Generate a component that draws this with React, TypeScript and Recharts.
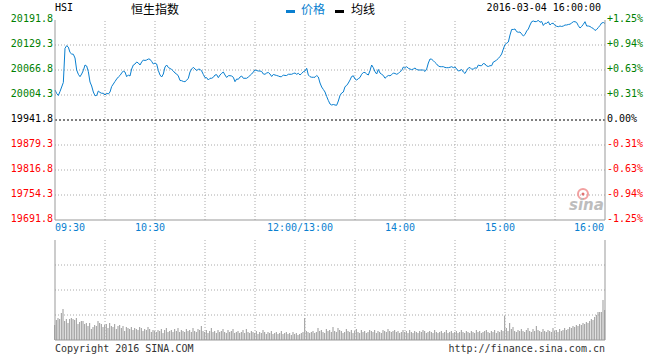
import React from "react";
import { ComposedChart, Line, Bar, XAxis, YAxis, ReferenceLine } from "recharts";

// HSI intraday, 2016-03-04, one point per minute (0 = 09:30, 150 = 12:00/13:00, 330 = 16:00)
const prices = [
  20016.8, 20008.1, 20003.1, 20013.1, 20024.3, 20035.6, 20121.1, 20127.6, 20124.0, 20110.6,
  20106.8, 20106.1, 20096.8, 20066.8, 20056.1, 20050.1, 20056.8, 20065.5, 20079.3, 20076.8,
  20062.6, 20036.8, 20026.8, 20011.8, 20002.6, 20003.1, 20014.3, 20010.6, 20008.6, 20008.6,
  20004.3, 20008.6, 20006.8, 20011.8, 20025.5, 20031.8, 20038.1, 20044.3, 20049.3, 20053.1,
  20059.3, 20064.3, 20061.8, 20050.1, 20054.3, 20051.8, 20069.3, 20079.3, 20081.8, 20086.8,
  20084.3, 20079.3, 20086.8, 20091.8, 20090.6, 20091.8, 20094.3, 20093.6, 20088.1, 20081.8,
  20084.3, 20081.8, 20065.5, 20054.3, 20049.3, 20056.8, 20074.3, 20079.3, 20073.1, 20070.6,
  20068.1, 20064.3, 20059.3, 20056.8, 20051.8, 20040.6, 20040.1, 20038.1, 20037.6, 20041.1,
  20046.1, 20061.8, 20069.3, 20073.6, 20069.3, 20065.5, 20068.6, 20068.6, 20064.3, 20055.6,
  20047.6, 20047.6, 20041.8, 20046.1, 20046.1, 20048.6, 20054.3, 20055.1, 20047.6, 20054.3,
  20058.6, 20061.8, 20054.3, 20048.1, 20052.6, 20052.6, 20051.8, 20048.6, 20037.6, 20044.3,
  20043.6, 20049.3, 20051.8, 20046.1, 20046.1, 20046.1, 20049.3, 20053.1, 20056.8, 20061.8,
  20066.8, 20065.5, 20064.3, 20064.3, 20063.1, 20056.8, 20056.1, 20059.3, 20060.6, 20056.8,
  20050.6, 20055.6, 20054.3, 20053.1, 20051.8, 20050.1, 20050.1, 20054.3, 20053.1, 20053.1,
  20056.1, 20056.1, 20056.1, 20058.1, 20059.3, 20056.1, 20058.6, 20054.3, 20058.1, 20062.6,
  20064.3,
  20071.1, 20054.3, 20050.1, 20048.6, 20048.6, 20048.6, 20053.1, 20049.3, 20034.3,
  20024.3, 20018.1, 20011.8, 20000.6, 19990.6, 19981.8, 19979.3, 19980.6, 19979.3, 19978.6,
  19989.3, 20003.1, 20009.3, 20011.8, 20025.1, 20028.1, 20034.3, 20041.8, 20050.6, 20052.3,
  20044.3, 20041.8, 20045.1, 20048.1, 20056.1, 20060.6, 20060.6, 20056.8, 20054.3, 20065.5,
  20079.3, 20072.6, 20062.6, 20056.8, 20068.1, 20059.3, 20056.1, 20053.1, 20046.1, 20050.1,
  20053.1, 20052.3, 20055.1, 20059.3, 20058.1, 20056.1, 20058.1, 20062.6, 20065.5, 20074.3,
  20071.1, 20075.1, 20071.1, 20069.3, 20067.6, 20069.3, 20071.8, 20068.1, 20066.8, 20066.8,
  20066.8, 20066.8, 20063.1, 20069.3, 20084.3, 20094.3, 20093.6, 20090.1, 20085.6, 20081.8,
  20076.8, 20075.1, 20075.1, 20075.1, 20073.1, 20072.6, 20072.6, 20073.6, 20075.1, 20072.6,
  20074.3, 20069.3, 20064.3, 20065.5, 20068.1, 20061.8, 20058.1, 20065.5, 20071.8, 20073.1,
  20068.6, 20069.3, 20072.3, 20071.1, 20079.3, 20077.6, 20077.6, 20083.1, 20081.8, 20076.8,
  20075.6, 20077.6, 20077.6, 20086.8, 20088.8, 20091.8, 20095.6, 20100.6, 20106.8, 20119.3,
  20130.6, 20133.6, 20136.8, 20154.3, 20168.1, 20168.1, 20169.3, 20162.6, 20161.1, 20161.8,
  20156.8, 20151.8, 20155.6, 20164.3, 20169.3, 20179.3, 20187.6, 20189.3, 20187.6, 20188.1,
  20191.1, 20186.1, 20188.1, 20178.1, 20183.6, 20183.6, 20187.6, 20179.3, 20183.1, 20183.6,
  20178.1, 20176.1, 20175.1, 20176.8, 20175.6, 20176.8, 20179.3, 20179.3, 20180.6, 20181.3,
  20184.3, 20187.6, 20187.6, 20185.6, 20177.6, 20171.8, 20175.6, 20181.1, 20187.6, 20176.8,
  20176.8, 20175.6, 20172.6, 20170.6, 20165.6, 20168.1, 20173.1, 20178.1, 20184.3, 20185.6,
  20183.1,
];

// per-minute volume, relative units (100 = top of the volume pane)
const volumes = [
  15, 20, 22, 21, 27, 31, 19, 21, 17, 21,
  22, 21, 20, 22, 16, 18, 19, 19, 16, 17,
  14, 17, 11, 13, 15, 14, 19, 17, 16, 13,
  15, 16, 12, 17, 14, 13, 16, 11, 14, 15,
  12, 14, 9, 13, 12, 11, 13, 10, 12, 11,
  10, 13, 12, 9, 11, 10, 13, 11, 8, 10,
  9, 8, 10, 9, 11, 7, 10, 12, 8, 9,
  10, 8, 11, 9, 12, 8, 10, 9, 8, 11,
  9, 10, 8, 12, 9, 8, 11, 10, 14, 9,
  8, 10, 7, 9, 12, 8, 9, 7, 10, 8,
  9, 11, 8, 7, 10, 8, 9, 11, 7, 8,
  9, 7, 8, 10, 7, 11, 8, 7, 9, 8,
  7, 9, 6, 8, 7, 10, 8, 6, 8, 7,
  9, 6, 7, 8, 6, 7, 9, 6, 7, 8,
  6, 7, 5, 8, 6, 7, 5, 6, 7, 8,
  22,
  9, 8, 7, 8, 9, 7, 8, 12, 9,
  10, 8, 7, 11, 9, 10, 8, 13, 9, 8,
  12, 10, 9, 7, 8, 11, 9, 8, 10, 7,
  9, 11, 8, 7, 10, 8, 9, 7, 8, 10,
  9, 8, 10, 7, 9, 8, 7, 10, 9, 8,
  11, 9, 8, 9, 10, 8, 9, 7, 8, 10,
  8, 9, 7, 10, 8, 7, 9, 8, 7, 9,
  8, 10, 9, 7, 8, 9, 8, 7, 10, 8,
  7, 8, 9, 7, 8, 10, 7, 8, 9, 7,
  8, 9, 7, 8, 10, 8, 7, 9, 8, 7,
  9, 8, 7, 10, 8, 9, 7, 8, 9, 10,
  8, 7, 9, 8, 10, 7, 9, 8, 10, 9,
  24, 12, 9, 17, 11, 13, 9, 8, 10, 9,
  11, 9, 8, 10, 12, 9, 8, 11, 9, 14,
  10, 9, 8, 11, 9, 8, 10, 9, 8, 12,
  9, 10, 8, 11, 9, 10, 12, 10, 11, 13,
  12, 14, 13, 15, 14, 16, 15, 17, 16, 18,
  17, 19, 21, 20, 23, 25, 28, 28, 28, 40, 30,
];

const prevClose = 19941.8;
const priceTicks = [19691.8, 19754.3, 19816.8, 19879.3, 19941.8, 20004.3, 20066.8, 20129.3, 20191.8];
const pctLabels = ["-1.25%", "-0.94%", "-0.63%", "-0.31%", "0.00%", "+0.31%", "+0.63%", "+0.94%", "+1.25%"];
const timeTicks = [0, 60, 150, 210, 270, 330];
const timeLabels = ["09:30", "10:30", "12:00/13:00", "14:00", "15:00", "16:00"];
const gridMinutes = [30, 60, 90, 120, 150, 180, 210, 240, 270, 300];
const volGrid = [25, 50, 75];

const data = prices.map((p, i) => ({ m: i, price: p, vol: volumes[i] }));

const MONO = "'DejaVu Sans Mono', monospace";
const CJK = "'Noto Sans CJK SC', sans-serif";
const GRID = "#aaaaaa";
const FRAME = "#999999";
const BLUE = "#0a7fd0";

const tickColor = (i: number) => (i > 4 ? "#008000" : i < 4 ? "#ff0000" : "#000000");
const tickIndex = (v: number) => priceTicks.findIndex((t) => Math.abs(t - v) < 0.01);

const LeftTick = ({ x, y, payload }: any) => {
  const i = tickIndex(payload.value);
  return (
    <text x={x} y={y} dy={2} textAnchor="end" fontSize={10} fontFamily={MONO} fill={tickColor(i)}>
      {priceTicks[i].toFixed(1)}
    </text>
  );
};

const RightTick = ({ x, y, payload }: any) => {
  const i = tickIndex(payload.value);
  return (
    <text x={x} y={y} dy={2} textAnchor="start" fontSize={10} fontFamily={MONO} fill={tickColor(i)}>
      {pctLabels[i]}
    </text>
  );
};

const TimeTick = ({ x, y, payload }: any) => {
  const i = timeTicks.indexOf(payload.value);
  const last = timeTicks.length - 1;
  const anchor = i === 0 ? "start" : i === last ? "end" : "middle";
  const dx = i === 0 ? 0 : i === last ? -1 : -5;
  return (
    <text x={x} y={y} dx={dx} dy={11} textAnchor={anchor} fontSize={10} fontFamily={MONO} fill={BLUE}>
      {timeLabels[i]}
    </text>
  );
};

export default function App() {
  return (
    <div
      style={{
        position: "absolute",
        left: 0,
        top: 0,
        width: 660,
        height: 360,
        background: "#fff",
        fontFamily: MONO,
        overflow: "hidden",
      }}
    >
      {/* header */}
      <div style={{ position: "absolute", left: 55, top: 2, fontSize: 10, color: "#000" }}>HSI</div>
      <div style={{ position: "absolute", left: 131, top: 0, fontSize: 12, fontFamily: CJK, color: "#000" }}>
        恒生指数
      </div>
      <div style={{ position: "absolute", left: 286, top: 10, width: 9, height: 3, background: BLUE }} />
      <div style={{ position: "absolute", left: 301, top: 0, fontSize: 12, fontFamily: CJK, color: BLUE }}>价格</div>
      <div style={{ position: "absolute", left: 335, top: 10, width: 9, height: 3, background: "#000" }} />
      <div style={{ position: "absolute", left: 351, top: 0, fontSize: 12, fontFamily: CJK, color: "#000" }}>均线</div>
      <div style={{ position: "absolute", right: 59, top: 2, fontSize: 10, color: "#000" }}>2016-03-04 16:00:00</div>

      {/* price pane */}
      <div style={{ position: "absolute", left: 0, top: 0 }}>
        <ComposedChart width={660} height={235} data={data} margin={{ top: 20, right: 0, bottom: 0, left: 0 }}>
          <XAxis
            dataKey="m"
            type="number"
            domain={[0, 330]}
            ticks={timeTicks}
            interval={0}
            height={15}
            tickSize={0}
            tickMargin={0}
            tickLine={false}
            axisLine={{ stroke: FRAME }}
            tick={<TimeTick />}
          />
          <XAxis xAxisId="top" orientation="top" dataKey="m" type="number" domain={[0, 330]} height={0} tick={false} tickLine={false} axisLine={{ stroke: FRAME }} />
          <YAxis
            yAxisId="left"
            domain={[priceTicks[0], priceTicks[8]]}
            ticks={priceTicks}
            interval={0}
            width={55}
            tickSize={0}
            tickMargin={2}
            tickLine={false}
            axisLine={{ stroke: FRAME }}
            tick={<LeftTick />}
            allowDataOverflow
          />
          <YAxis
            yAxisId="right"
            orientation="right"
            domain={[priceTicks[0], priceTicks[8]]}
            ticks={priceTicks}
            interval={0}
            width={55}
            tickSize={0}
            tickMargin={2}
            tickLine={false}
            axisLine={{ stroke: FRAME }}
            tick={<RightTick />}
            allowDataOverflow
          />
          {priceTicks.slice(1, 8).filter((t) => t !== prevClose).map((t) => (
            <ReferenceLine key={`h${t}`} yAxisId="left" y={t} stroke={GRID} strokeDasharray="1 2" />
          ))}
          {gridMinutes.map((m) => (
            <ReferenceLine key={`v${m}`} yAxisId="left" x={m} stroke={GRID} strokeDasharray="1 2" />
          ))}
          <ReferenceLine yAxisId="left" y={prevClose} stroke="#000" strokeDasharray="2 2" />
          <Line
            yAxisId="left"
            dataKey="price"
            type="linear"
            stroke={BLUE}
            strokeWidth={1}
            dot={false}
            isAnimationActive={false}
          />
        </ComposedChart>
      </div>

      {/* volume pane */}
      <div style={{ position: "absolute", left: 0, top: 240 }}>
        <ComposedChart width={660} height={101} data={data} margin={{ top: 0, right: 0, bottom: 0, left: 0 }}>
          <XAxis dataKey="m" type="number" domain={[0, 330]} height={1} tick={false} tickLine={false} axisLine={{ stroke: FRAME }} />
          <XAxis xAxisId="top" orientation="top" dataKey="m" type="number" domain={[0, 330]} height={0} tick={false} tickLine={false} axisLine={{ stroke: FRAME }} />
          <YAxis domain={[0, 100]} width={55} tick={false} tickLine={false} axisLine={{ stroke: FRAME }} />
          <YAxis yAxisId="r" orientation="right" domain={[0, 100]} width={55} tick={false} tickLine={false} axisLine={{ stroke: FRAME }} />
          {volGrid.map((v) => (
            <ReferenceLine key={`vh${v}`} y={v} stroke={GRID} strokeDasharray="1 2" />
          ))}
          {gridMinutes.map((m) => (
            <ReferenceLine key={`vv${m}`} x={m} stroke={GRID} strokeDasharray="1 2" />
          ))}
          <Bar dataKey="vol" fill="#999999" barSize={1} isAnimationActive={false} />
        </ComposedChart>
      </div>

      {/* watermark */}
      <svg style={{ position: "absolute", left: 566, top: 186 }} width={40} height={28}>
        <circle cx={17} cy={8} r={5} fill="none" stroke="#f2a0a0" strokeWidth={2} />
        <circle cx={17} cy={8} r={1.5} fill="#e07070" />
        <text x={3} y={24} fontSize={15} fontStyle="italic" fontWeight="bold" fontFamily="'DejaVu Sans', sans-serif" fill="#bdbdbd">
          sina
        </text>
      </svg>

      {/* footer */}
      <div style={{ position: "absolute", left: 55, top: 343, fontSize: 10, color: "#333" }}>Copyright 2016 SINA.COM</div>
      <div style={{ position: "absolute", right: 55, top: 343, fontSize: 10, color: "#333" }}>http://finance.sina.com.cn</div>
    </div>
  );
}
